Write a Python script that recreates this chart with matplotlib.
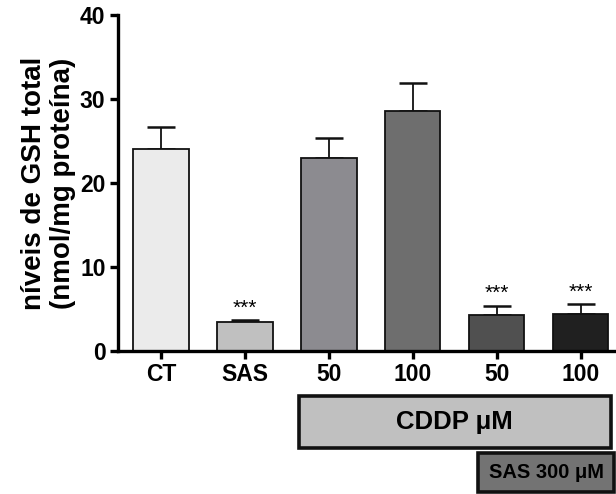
import matplotlib.pyplot as plt
import matplotlib.transforms as mtransforms
from matplotlib.patches import Rectangle

plt.rcParams['font.family'] = ['Liberation Sans', 'DejaVu Sans']

labels = ['CT', 'SAS', '50', '100', '50', '100']
means = [24.0, 3.5, 23.0, 28.6, 4.3, 4.4]
errs = [2.7, 0.2, 2.3, 3.3, 1.1, 1.2]
colors = ['#ebebeb', '#c0c0c0', '#8c8b90', '#6e6e6e', '#505050', '#202020']
signif = ['', '***', '', '', '***', '***']

fig = plt.figure(figsize=(6.16, 4.94), dpi=100)
ax = fig.add_axes([0.1916, 0.2895, 0.8084, 0.6801])

x = list(range(len(labels)))
ax.bar(x, means, width=0.66, color=colors, edgecolor='#111111', linewidth=1.3, zorder=2)
ax.errorbar(x, means, yerr=[[0] * len(errs), errs], fmt='none', ecolor='#111111',
            elinewidth=1.3, capsize=10, capthick=1.8, zorder=1)
for xi, m, e, s in zip(x, means, errs, signif):
    if s:
        ax.text(xi, m + e + 0.3, s, ha='center', va='bottom', fontsize=15)

ax.set_xlim(-0.51, 5.42)
ax.set_ylim(0, 40)
ax.set_yticks([0, 10, 20, 30, 40])
ax.set_xticks(x)
ax.set_xticklabels(labels)
for sp in ['top', 'right']:
    ax.spines[sp].set_visible(False)
for sp in ['left', 'bottom']:
    ax.spines[sp].set_linewidth(2.4)
ax.tick_params(axis='both', width=2.4, length=6, labelsize=16.5, pad=3)
for t in ax.get_xticklabels() + ax.get_yticklabels():
    t.set_fontweight('bold')
ax.set_ylabel('níveis de GSH total\n(nmol/mg proteína)', fontsize=20,
              fontweight='bold', labelpad=3, linespacing=1.15)

trans = mtransforms.blended_transform_factory(ax.transData, ax.transAxes)
box1 = Rectangle((1.65, -0.289), 3.71, 0.155, transform=trans, clip_on=False,
                 facecolor='#c0c0c0', edgecolor='#111111', linewidth=2.6)
ax.add_patch(box1)
ax.text(3.5, -0.21, 'CDDP μM', transform=trans, ha='center', va='center',
        fontsize=18.5, fontweight='bold')
box2 = Rectangle((3.78, -0.42), 1.62, 0.115, transform=trans, clip_on=False,
                 facecolor='#737373', edgecolor='#111111', linewidth=2.6)
ax.add_patch(box2)
ax.text(4.59, -0.362, 'SAS 300 μM', transform=trans, ha='center', va='center',
        fontsize=14.5, fontweight='bold')

fig.savefig('out.png', dpi=100)
